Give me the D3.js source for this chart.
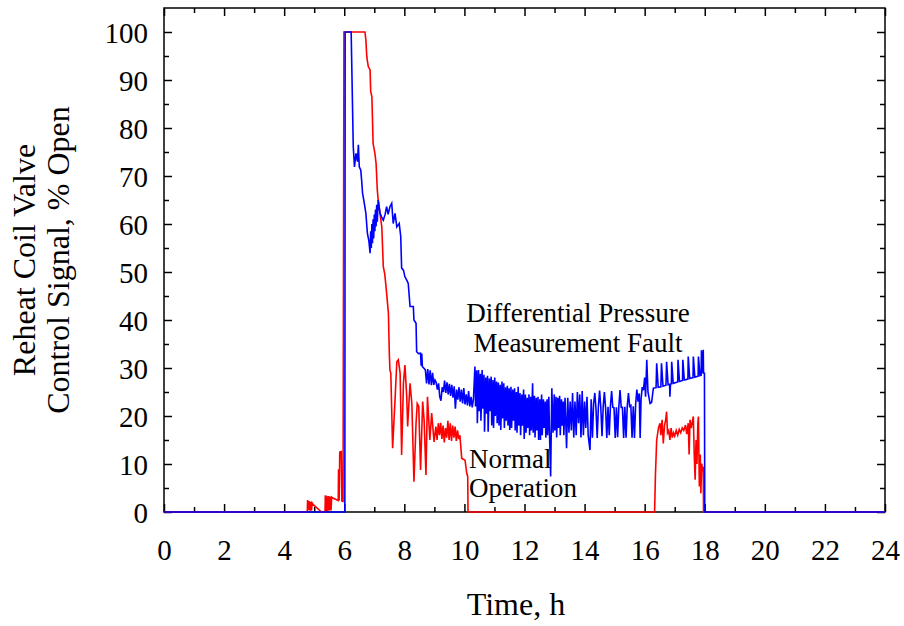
<!DOCTYPE html>
<html>
<head>
<meta charset="utf-8">
<script src="https://cdn.jsdelivr.net/npm/d3@7"></script>
<style>
  body { margin: 0; background: #fff; }
  svg { display: block; }
</style>
</head>
<body>
<svg id="chart"></svg>
<script>
// Chart size
const width = 904;
const height = 626;

// Tick values
const xTicks = [0, 2, 4, 6, 8, 10, 12, 14, 16, 18, 20, 22, 24];
const xMinorTicks = [1, 3, 5, 7, 9, 11, 13, 15, 17, 19, 21, 23];
const yTicks = [0, 10, 20, 30, 40, 50, 60, 70, 80, 90, 100];
const yMinorTicks = [5, 15, 25, 35, 45, 55, 65, 75, 85, 95];

// Normal operation: [time h, valve signal %]
const normalSeries = [
  [0, 0], [4.77, 0], [4.78, 2.5], [4.81, 0.4], [4.83, 2.3], [4.86, 0.3], [4.88, 2.1], [4.91, 0.3],
  [4.93, 1.9], [4.96, 1.6], [5.24, 0], [5.36, 0], [5.37, 3.5], [5.40, 0.2], [5.42, 3.4], [5.45, 0.2],
  [5.48, 3.3], [5.51, 0.3], [5.53, 3.2], [5.56, 0.3], [5.58, 3.1], [5.62, 2.9], [5.80, 2.4], [5.81, 8.9],
  [5.83, 2.4], [5.85, 12.5], [5.90, 12.6], [5.92, 2.3], [5.96, 2.2], [5.99, 100], [6.69, 100],
  [6.72, 98.3], [6.75, 94.9], [6.77, 94.0], [6.80, 92.8], [6.86, 92.1], [6.88, 87.6], [6.92, 86.5],
  [6.96, 76.8], [7.02, 74.7], [7.06, 72.6], [7.10, 67.1], [7.13, 65.0], [7.19, 62.2], [7.25, 59.4],
  [7.30, 51.1], [7.35, 49.5], [7.41, 45.6], [7.47, 41.4], [7.50, 33.1], [7.52, 29.6], [7.55, 28.9],
  [7.61, 13.3], [7.69, 23.3], [7.75, 31.3], [7.80, 31.7], [7.86, 28.9], [7.91, 11.9], [7.97, 26.8],
  [8.02, 30.6], [8.08, 24.0], [8.11, 17.8], [8.19, 26.8], [8.25, 22.6], [8.32, 6.3], [8.39, 18.5],
  [8.43, 22.6], [8.48, 22.0], [8.54, 8.75], [8.61, 23.0], [8.66, 19.0], [8.72, 7.7], [8.77, 24.0],
  [8.85, 15.0], [8.91, 20.6], [8.99, 14.6], [9.05, 17.8], [9.09, 15.0], [9.13, 18.5], [9.17, 16.0],
  [9.21, 18.6], [9.25, 15.2], [9.29, 18.0], [9.33, 14.5], [9.37, 17.5], [9.41, 15.5], [9.45, 19.0],
  [9.49, 15.0], [9.53, 18.5], [9.57, 14.8], [9.61, 18.0], [9.65, 15.5], [9.69, 17.8], [9.73, 14.8],
  [9.77, 17.0], [9.81, 15.2], [9.85, 16.0], [9.91, 11.2], [9.96, 11.0], [10.02, 10.8], [10.08, 8.0],
  [10.11, 7.4], [10.12, 0], [16.33, 0], [16.36, 8.0], [16.40, 15.0], [16.46, 17.5], [16.51, 18.5],
  [16.54, 16.0], [16.58, 19.2], [16.62, 14.3], [16.66, 18.0], [16.70, 19.2], [16.73, 20.9], [16.76, 16.5],
  [16.80, 17.0], [16.84, 15.0], [16.88, 17.5], [16.92, 15.5], [16.96, 16.5], [17.00, 15.8], [17.05, 17.0],
  [17.10, 16.0], [17.15, 17.2], [17.20, 16.5], [17.25, 17.5], [17.30, 17.0], [17.36, 18.1], [17.40, 16.2],
  [17.45, 18.5], [17.48, 12.0], [17.51, 19.2], [17.55, 17.5], [17.62, 19.9], [17.65, 12.0], [17.68, 6.7],
  [17.71, 15.0], [17.74, 10.0], [17.77, 18.5], [17.79, 19.9], [17.82, 5.3], [17.85, 12.0], [17.87, 3.9],
  [17.90, 10.1], [17.93, 8.5], [17.95, 9.4], [17.96, 0], [24, 0]
];

// Differential pressure measurement fault: [time h, valve signal %]
const faultSeries = [
  [0, 0], [6.02, 0], [6.03, 100], [6.23, 100],
  [6.30, 76.1], [6.34, 71.9], [6.39, 74.7], [6.44, 73.0], [6.47, 76.5], [6.50, 71.9], [6.55, 71.2],
  [6.58, 69.0], [6.61, 66.4], [6.66, 64.6], [6.72, 62.2], [6.77, 58.1], [6.82, 56.5], [6.86, 53.9],
  [6.88, 58.5], [6.90, 55.0], [6.92, 60.0], [6.94, 56.0], [6.96, 61.0], [6.98, 57.0], [7.00, 62.0],
  [7.02, 58.5], [7.04, 63.0], [7.06, 59.5], [7.08, 64.0], [7.10, 60.5], [7.13, 65.0],
  [7.19, 62.3], [7.24, 61.5], [7.30, 60.8], [7.36, 62.0], [7.41, 63.6], [7.46, 62.0], [7.52, 63.6],
  [7.58, 64.3], [7.63, 60.1], [7.69, 62.2], [7.75, 59.4], [7.83, 60.1], [7.88, 57.4], [7.91, 50.8],
  [7.97, 50.4], [8.02, 49.0], [8.08, 48.3], [8.13, 47.6], [8.19, 42.8], [8.30, 42.8], [8.32, 40.0],
  [8.39, 39.3], [8.41, 33.4], [8.47, 33.0], [8.54, 33.1], [8.56, 30.5], [8.58, 33.0], [8.60, 30.3],
  [8.66, 29.9],
  [8.70, 29.6], [8.74, 26.8], [8.78, 29.8], [8.82, 26.6], [8.86, 29.5], [8.90, 26.4], [8.94, 29.0],
  [8.98, 26.5], [9.02, 27.5], [9.06, 27.0], [9.10, 25.5], [9.14, 26.8], [9.18, 24.0], [9.22, 23.2],
  [9.26, 26.0], [9.30, 25.0], [9.34, 27.4], [9.38, 24.8], [9.42, 27.0], [9.46, 24.5], [9.50, 26.7],
  [9.54, 24.2], [9.58, 26.5], [9.62, 23.8], [9.66, 26.2], [9.70, 21.5], [9.74, 25.5], [9.78, 23.4],
  [9.82, 26.0], [9.86, 23.0], [9.90, 25.5], [9.94, 22.6], [9.98, 25.8], [10.02, 22.4], [10.06, 24.5],
  [10.10, 22.2], [10.14, 25.2], [10.18, 22.0], [10.22, 24.0], [10.26, 21.8], [10.30, 23.5],
  [10.35, 30.3], [10.37, 22.0], [10.41, 29.5], [10.43, 18.5], [10.47, 29.6], [10.49, 21.0], [10.53, 28.8],
  [10.55, 19.0], [10.59, 29.6], [10.61, 21.5], [10.65, 28.6], [10.67, 16.7], [10.71, 28.0], [10.73, 20.5],
  [10.77, 28.4], [10.79, 16.7], [10.83, 27.8], [10.85, 21.0], [10.89, 28.2], [10.91, 18.0], [10.95, 27.5],
  [10.97, 17.5], [11.01, 28.0], [11.03, 20.0], [11.07, 27.2], [11.09, 18.5], [11.13, 27.0], [11.15, 18.0],
  [11.19, 26.5], [11.21, 17.1], [11.25, 27.2], [11.27, 19.5], [11.31, 26.8], [11.33, 17.5], [11.37, 26.0],
  [11.39, 19.0], [11.43, 26.3], [11.45, 18.0], [11.49, 25.8], [11.51, 17.1], [11.55, 26.1], [11.57, 17.5],
  [11.61, 25.5], [11.63, 19.0], [11.67, 25.8], [11.69, 17.0], [11.73, 25.0], [11.75, 16.5], [11.79, 26.1],
  [11.81, 18.0], [11.85, 24.8], [11.87, 16.0], [11.91, 24.5], [11.93, 18.0], [11.97, 25.5], [11.99, 15.2],
  [12.03, 24.5], [12.05, 16.5], [12.09, 23.8], [12.11, 17.5], [12.15, 24.5], [12.17, 16.0], [12.21, 24.0],
  [12.23, 17.0], [12.27, 26.8], [12.29, 16.5], [12.33, 24.2], [12.35, 15.5], [12.39, 23.8], [12.41, 17.0],
  [12.45, 24.0], [12.47, 15.0], [12.51, 23.5], [12.53, 15.0], [12.57, 24.5], [12.59, 16.0], [12.63, 23.5],
  [12.65, 17.5], [12.69, 23.0], [12.71, 15.5], [12.75, 23.5], [12.77, 16.0], [12.81, 24.0], [12.83, 17.0],
  [12.87, 7.4], [12.91, 25.8],
  [12.95, 16.5], [12.99, 24.5], [13.01, 17.0], [13.05, 24.0], [13.07, 15.5], [13.11, 23.8], [13.13, 17.5],
  [13.17, 24.2], [13.19, 16.0], [13.23, 23.5], [13.25, 18.0], [13.29, 23.0], [13.31, 16.0], [13.35, 23.8],
  [13.40, 13.3], [13.44, 23.8], [13.48, 16.5], [13.52, 23.0], [13.56, 17.0], [13.60, 24.8], [13.64, 15.5],
  [13.68, 23.0], [13.72, 16.0], [13.76, 25.0], [13.80, 18.5], [13.84, 24.5], [13.88, 15.5], [13.92, 25.2],
  [13.96, 16.0], [14.00, 23.0], [14.04, 17.5], [14.08, 24.0], [14.12, 16.0], [14.18, 12.9], [14.22, 23.5],
  [14.26, 15.5], [14.30, 22.5], [14.34, 24.8], [14.38, 21.5], [14.42, 15.4], [14.46, 22.0], [14.50, 25.3],
  [14.54, 21.8], [14.58, 15.8], [14.62, 22.0], [14.66, 25.0], [14.70, 21.6], [14.74, 15.4], [14.78, 21.9],
  [14.82, 16.0], [14.86, 22.0], [14.90, 25.2], [14.94, 21.8], [14.98, 21.7], [15.02, 15.4], [15.06, 21.8],
  [15.10, 15.6], [15.14, 21.9], [15.18, 25.4], [15.22, 21.8], [15.26, 21.8], [15.30, 15.4], [15.34, 21.9],
  [15.38, 15.5], [15.42, 22.0], [15.46, 24.8], [15.50, 22.0], [15.54, 22.2], [15.58, 15.5], [15.62, 22.0],
  [15.66, 15.4], [15.70, 22.5], [15.74, 25.5], [15.78, 23.0], [15.82, 24.7], [15.85, 15.4], [15.88, 23.5],
  [15.92, 26.0], [15.96, 25.4], [16.00, 28.0], [16.03, 24.0], [16.07, 31.7], [16.11, 25.0], [16.18, 22.6],
  [16.23, 22.8], [16.29, 25.8],
  [16.38, 25.9], [16.40, 31.0], [16.45, 26.0], [16.54, 26.1], [16.56, 31.0], [16.61, 26.2], [16.71, 26.4],
  [16.73, 31.3], [16.78, 26.5], [16.83, 26.6], [16.84, 24.0], [16.86, 26.6], [16.89, 26.7], [16.90, 31.3],
  [16.95, 26.8], [17.10, 27.1], [17.11, 31.7], [17.16, 27.2], [17.26, 27.4], [17.27, 31.7], [17.32, 27.5],
  [17.44, 27.7], [17.45, 32.4], [17.50, 27.8], [17.61, 28.0], [17.62, 32.4], [17.67, 28.1], [17.78, 28.3],
  [17.79, 32.4], [17.84, 28.4], [17.88, 28.5], [17.89, 33.7], [17.93, 28.9], [17.95, 33.8], [17.96, 28.9],
  [17.99, 28.9], [18.00, 0], [24, 0]
];

// Layout
const plot = { left: 164, right: 885, top: 8, bottom: 512 };
const serif = "'Liberation Serif', 'Times New Roman', serif";

const svg = d3.select("#chart")
  .attr("width", width)
  .attr("height", height);

const x = d3.scaleLinear().domain([0, 24]).range([plot.left, plot.right]);
const y = d3.scaleLinear().domain([0, 105]).range([plot.bottom, plot.top]);

// Axes, ticks pointing inward on all four sides
function styleAxis(g) {
  g.select(".domain").remove();
  g.selectAll(".tick line").attr("stroke", "#000").attr("stroke-width", 1.5);
  g.selectAll("text")
    .attr("font-family", serif)
    .attr("font-size", 29)
    .attr("fill", "#000");
}

// Frame
svg.append("rect")
  .attr("x", plot.left)
  .attr("y", plot.top)
  .attr("width", plot.right - plot.left)
  .attr("height", plot.bottom - plot.top)
  .attr("fill", "none")
  .attr("stroke", "#000")
  .attr("stroke-width", 1.5);

svg.append("g")
  .attr("transform", `translate(0,${plot.bottom})`)
  .call(d3.axisBottom(x).tickValues(xTicks).tickSizeInner(-8).tickSizeOuter(0).tickPadding(27).tickFormat(d3.format("d")))
  .call(styleAxis);

svg.append("g")
  .attr("transform", `translate(0,${plot.bottom})`)
  .call(d3.axisBottom(x).tickValues(xMinorTicks).tickSize(-5).tickFormat(""))
  .call(styleAxis);

svg.append("g")
  .attr("transform", `translate(0,${plot.top})`)
  .call(d3.axisTop(x).tickValues(xTicks).tickSize(-8).tickFormat(""))
  .call(styleAxis);

svg.append("g")
  .attr("transform", `translate(0,${plot.top})`)
  .call(d3.axisTop(x).tickValues(xMinorTicks).tickSize(-5).tickFormat(""))
  .call(styleAxis);

svg.append("g")
  .attr("transform", `translate(${plot.left},0)`)
  .call(d3.axisLeft(y).tickValues(yTicks).tickSizeInner(-8).tickSizeOuter(0).tickPadding(16).tickFormat(d3.format("d")))
  .call(styleAxis)
  .call(g => g.selectAll("text").attr("dy", "0.37em"));

svg.append("g")
  .attr("transform", `translate(${plot.left},0)`)
  .call(d3.axisLeft(y).tickValues(yMinorTicks).tickSize(-5).tickFormat(""))
  .call(styleAxis);

svg.append("g")
  .attr("transform", `translate(${plot.right},0)`)
  .call(d3.axisRight(y).tickValues(yTicks).tickSize(-8).tickFormat(""))
  .call(styleAxis);

svg.append("g")
  .attr("transform", `translate(${plot.right},0)`)
  .call(d3.axisRight(y).tickValues(yMinorTicks).tickSize(-5).tickFormat(""))
  .call(styleAxis);

// Lines (drawn over the frame, fault line on top)
const line = d3.line()
  .x(d => x(d[0]))
  .y(d => y(d[1]));

svg.append("path")
  .datum(normalSeries)
  .attr("d", line)
  .attr("fill", "none")
  .attr("stroke", "#ff0000")
  .attr("stroke-width", 1.6);

svg.append("path")
  .datum(faultSeries)
  .attr("d", line)
  .attr("fill", "none")
  .attr("stroke", "#0000ff")
  .attr("stroke-width", 1.6);

// Axis titles
svg.append("text")
  .attr("x", 516)
  .attr("y", 615)
  .attr("text-anchor", "middle")
  .attr("font-family", serif)
  .attr("font-size", 32)
  .text("Time, h");

const yTitle = svg.append("text")
  .attr("transform", "translate(0,260) rotate(-90)")
  .attr("text-anchor", "middle")
  .attr("font-family", serif)
  .attr("font-size", 32);
yTitle.append("tspan").attr("x", 0).attr("y", 35).text("Reheat Coil Valve");
yTitle.append("tspan").attr("x", 0).attr("y", 69).text("Control Signal, % Open");

// Annotations
const faultLabel = svg.append("text")
  .attr("text-anchor", "middle")
  .attr("font-family", serif)
  .attr("font-size", 27);
faultLabel.append("tspan").attr("x", 578).attr("y", 322).text("Differential Pressure");
faultLabel.append("tspan").attr("x", 578).attr("y", 352).text("Measurement Fault");

const normalLabel = svg.append("text")
  .attr("font-family", serif)
  .attr("font-size", 27);
normalLabel.append("tspan").attr("x", 469).attr("y", 468).text("Normal");
normalLabel.append("tspan").attr("x", 469).attr("y", 497).text("Operation");
</script>
</body>
</html>
